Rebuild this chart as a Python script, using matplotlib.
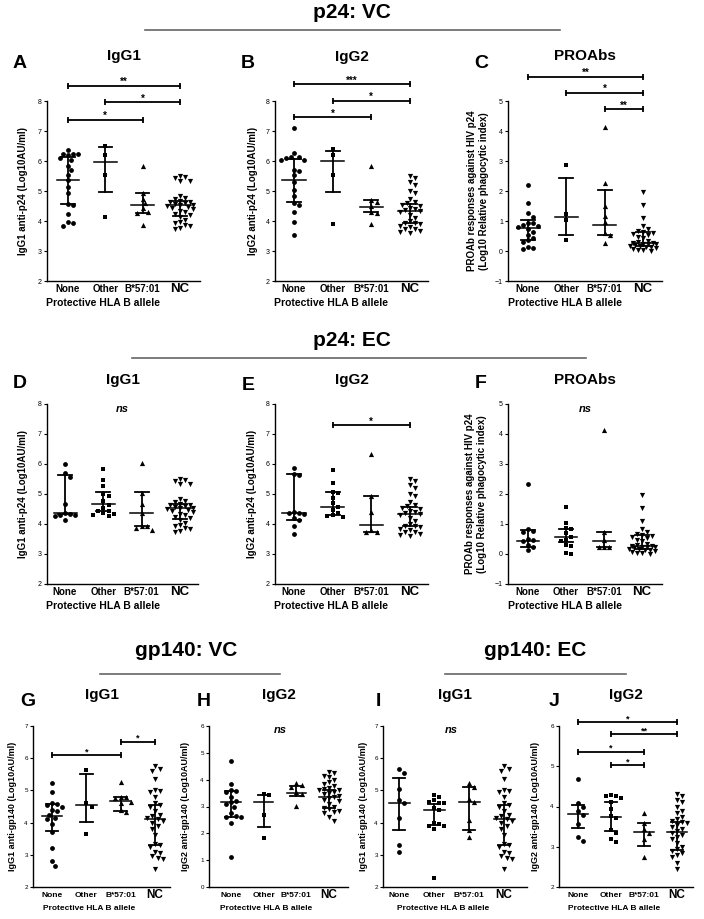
import matplotlib.pyplot as plt
from matplotlib.lines import Line2D
import numpy as np

plt.rcParams['font.family'] = ['Liberation Sans', 'DejaVu Sans']

groups = ['None', 'Other', 'B*57:01', 'NC']
markers = ['o', 's', '^', 'v']

# controls (NC) are shared by the VC and EC panels
nc_p24_igg1 = [5.5, 5.47, 5.42, 5.35, 5.33, 4.85, 4.78, 4.72, 4.68, 4.65, 4.62, 4.6, 4.58, 4.55, 4.52,
               4.5, 4.48, 4.45, 4.4, 4.35, 4.3, 4.25, 4.2, 4.15, 4.05, 3.98, 3.92, 3.88, 3.82, 3.78, 3.75]
nc_p24_igg2 = [5.5, 5.42, 5.3, 5.2, 5.0, 4.95, 4.75, 4.62, 4.6, 4.55, 4.5, 4.45, 4.4, 4.36, 4.33,
               4.3, 4.2, 4.1, 4.0, 3.95, 3.92, 3.9, 3.85, 3.8, 3.75, 3.72, 3.68, 3.65, 3.6]
nc_p24_proab = [1.97, 1.55, 1.1, 0.82, 0.72, 0.68, 0.62, 0.6, 0.58, 0.52, 0.48, 0.42, 0.35, 0.3, 0.28,
                0.27, 0.25, 0.24, 0.22, 0.2, 0.18, 0.17, 0.15, 0.12, 0.1, 0.08, 0.05, 0.02, 0.0]
nc_gp140_igg1 = [5.75, 5.65, 5.6, 5.35, 5.0, 4.98, 4.95, 4.8, 4.6, 4.55, 4.5, 4.35, 4.25, 4.2, 4.15,
                 4.1, 4.05, 4.0, 3.9, 3.8, 3.6, 3.35, 3.3, 3.25, 3.1, 3.05, 2.95, 2.9, 2.88, 2.55]
nc_gp140_igg2 = [4.3, 4.25, 4.15, 4.1, 4.0, 3.9, 3.85, 3.75, 3.7, 3.65, 3.62, 3.6, 3.55, 3.5, 3.45,
                 3.4, 3.35, 3.3, 3.25, 3.2, 3.1, 3.0, 2.95, 2.9, 2.85, 2.8, 2.75, 2.6, 2.45]

# p24: VC
a_none = [6.38, 6.25, 6.25, 6.22, 6.2, 6.1, 6.05, 5.85, 5.7, 5.55, 5.38, 5.15, 4.95, 4.58, 4.55, 4.25, 3.97, 3.92, 3.85]
a_other = [6.5, 6.2, 5.53, 4.12]
a_b57 = [5.85, 4.95, 4.75, 4.6, 4.42, 4.3, 4.28, 3.87]
a_med, a_q1, a_q3 = [5.38, 5.96, 4.52, 4.52], [4.57, 4.98, 4.28, 4.18], [6.15, 6.48, 4.94, 4.67]
a_sig = [(0, 3, 8.5, '**'), (1, 3, 7.96, '*'), (0, 2, 7.37, '*')]

b_none = [7.1, 6.28, 6.15, 6.12, 6.1, 6.05, 6.02, 5.7, 5.68, 5.52, 5.3, 5.05, 4.82, 4.6, 4.55, 4.3, 3.98, 3.52]
b_other = [6.4, 6.2, 5.53, 3.9]
b_b57 = [5.85, 4.7, 4.65, 4.5, 4.3, 4.28, 3.9]
b_med, b_q1, b_q3 = [5.37, 5.99, 4.46, 4.33], [4.62, 4.97, 4.3, 3.92], [6.08, 6.35, 4.7, 4.57]
b_sig = [(0, 3, 8.56, '***'), (1, 3, 8.0, '*'), (0, 2, 7.46, '*')]

c_none = [2.2, 1.6, 1.28, 1.15, 0.95, 0.92, 0.88, 0.85, 0.8, 0.75, 0.65, 0.55, 0.45, 0.38, 0.3, 0.15, 0.1, 0.08]
c_other = [2.86, 1.24, 1.02, 0.36]
c_b57 = [4.12, 2.28, 1.5, 1.18, 0.98, 0.6, 0.55, 0.27]
c_med, c_q1, c_q3 = [0.77, 1.13, 0.86, 0.27], [0.36, 0.52, 0.52, 0.18], [1.04, 2.44, 2.03, 0.62]
c_sig = [(0, 3, 5.81, '**'), (1, 3, 5.28, '*'), (2, 3, 4.72, '**')]

# p24: EC
d_none = [6.0, 5.7, 5.58, 4.68, 4.36, 4.33, 4.3, 4.3, 4.28, 4.12]
d_other = [5.83, 5.48, 5.26, 5.01, 4.95, 4.76, 4.64, 4.53, 4.44, 4.42, 4.36, 4.33, 4.3, 4.28]
d_b57 = [6.03, 5.05, 4.66, 4.36, 3.95, 3.93, 3.88, 3.8]
d_med, d_q1, d_q3 = [4.36, 4.66, 4.38, 4.52], [4.32, 4.42, 3.92, 4.18], [5.63, 5.06, 5.07, 4.67]

e_none = [5.88, 5.68, 5.62, 4.4, 4.38, 4.36, 4.33, 4.2, 4.15, 3.92, 3.68]
e_other = [5.8, 5.38, 5.08, 5.05, 4.86, 4.69, 4.58, 4.47, 4.36, 4.3, 4.27, 4.25]
e_b57 = [6.33, 4.94, 4.4, 3.8, 3.75, 3.73]
e_med, e_q1, e_q3 = [4.36, 4.56, 3.97, 4.33], [4.14, 4.3, 3.75, 3.92], [5.66, 5.08, 4.94, 4.57]
e_sig = [(1, 3, 7.29, '*')]

f_none = [2.32, 0.82, 0.78, 0.75, 0.5, 0.47, 0.42, 0.3, 0.25, 0.12]
f_other = [1.58, 1.05, 0.88, 0.82, 0.7, 0.58, 0.47, 0.42, 0.3, 0.28, 0.02, 0.0]
f_b57 = [4.15, 0.75, 0.47, 0.25, 0.23, 0.22]
f_med, f_q1, f_q3 = [0.45, 0.58, 0.44, 0.27], [0.22, 0.39, 0.23, 0.18], [0.8, 0.82, 0.75, 0.62]

# gp140: VC
g_none = [5.22, 4.95, 4.62, 4.58, 4.55, 4.5, 4.4, 4.35, 4.25, 4.15, 4.1, 3.95, 3.72, 3.2, 2.8, 2.65]
g_other = [5.63, 4.6, 4.5, 3.64]
g_b57 = [5.27, 4.8, 4.78, 4.75, 4.65, 4.6, 4.39, 4.34]
g_med, g_q1, g_q3 = [4.19, 4.55, 4.68, 4.1], [3.75, 4.03, 4.37, 3.31], [4.57, 5.51, 4.8, 4.55]
g_sig = [(0, 2, 6.09, '*'), (2, 3, 6.51, '*')]

h_none = [4.68, 3.82, 3.62, 3.58, 3.55, 3.35, 3.2, 3.15, 3.1, 2.98, 2.75, 2.65, 2.62, 2.6, 2.4, 1.13]
h_other = [3.46, 3.43, 2.67, 1.84]
h_b57 = [3.87, 3.8, 3.72, 3.55, 3.45, 3.02]
h_med, h_q1, h_q3 = [3.16, 3.17, 3.5, 3.36], [2.6, 2.22, 3.4, 2.93], [3.57, 3.43, 3.77, 3.61]

# gp140: EC
i_none = [5.68, 5.55, 5.03, 4.7, 4.62, 4.13, 3.31, 3.1]
i_other = [4.86, 4.78, 4.7, 4.65, 4.62, 4.6, 4.45, 4.4, 4.0, 3.95, 3.9, 3.88, 3.8, 2.27]
i_b57 = [5.24, 5.11, 4.72, 4.64, 4.08, 3.77, 3.55]
i_med, i_q1, i_q3 = [4.62, 4.39, 4.64, 4.1], [3.77, 3.93, 3.77, 3.31], [5.37, 4.58, 5.11, 4.55]

j_none = [4.68, 4.08, 4.0, 3.88, 3.8, 3.57, 3.24, 3.15]
j_other = [4.29, 4.27, 4.25, 4.22, 4.1, 3.93, 3.77, 3.72, 3.42, 3.34, 3.19, 3.13]
j_b57 = [3.83, 3.6, 3.45, 3.35, 3.2, 2.75]
j_med, j_q1, j_q3 = [3.81, 3.75, 3.36, 3.36], [3.46, 3.4, 3.01, 2.93], [4.03, 4.12, 3.6, 3.61]
j_sig = [(0, 3, 6.09, '*'), (1, 3, 5.8, '**'), (0, 2, 5.36, '*'), (1, 2, 5.02, '*')]

lab_p24_1 = 'IgG1 anti-p24 (Log10AU/ml)'
lab_p24_2 = 'IgG2 anti-p24 (Log10AU/ml)'
lab_proab = 'PROAb responses against HIV p24\n(Log10 Relative phagocytic index)'
lab_gp_1 = 'IgG1 anti-gp140 (Log10AU/ml)'
lab_gp_2 = 'IgG2 anti-gp140 (Log10AU/ml)'

W, H = 704, 919
fig = plt.figure(figsize=(W / 100, H / 100), dpi=100)


def ftext(x, y, s, **kw):
    fig.text(x / W, 1 - y / H, s, ha='center', va='center', **kw)


def swarm(vals, ypx, xpx, d=5.2, maxw=13):
    # simple beeswarm: place points from top down, nudging sideways on overlap,
    # but never wider than maxw px (then take the least crowded slot)
    placed = []
    offs = np.zeros(len(vals))
    cands = [0.0] + [s * j * d * 0.5 for j in range(1, 30) for s in (1, -1)]
    cands = [c for c in cands if abs(c) <= maxw]
    for i in np.argsort(vals)[::-1]:
        yp = vals[i] * ypx
        best, best_gap = 0.0, -1
        for c in cands:
            gap = min([np.hypot(c - px, yp - py) for px, py in placed] or [99])
            if gap >= d * 0.95:
                best = c
                break
            if gap > best_gap:
                best, best_gap = c, gap
        placed.append((best, yp))
        offs[i] = best / xpx
    return offs


def panel(letter, title, data, med, q1, q3, sig, ylim, ylabel, box, heads, big=True, ns=False):
    left, none_x, nc_x, right, top, bottom, lab_x = box
    title_y, letter_y = heads
    ax = fig.add_axes([left / W, 1 - bottom / H, (right - left) / W, (bottom - top) / H])
    unit = (nc_x - none_x) / 3
    ax.set_xlim((left - none_x) / unit, (right - none_x) / unit)
    ax.set_ylim(ylim)
    ax.set_yticks(np.arange(ylim[0], ylim[1] + 1))
    ypx = (bottom - top) / (ylim[1] - ylim[0])
    for k, vals in enumerate(data):
        vals = np.asarray(vals, dtype=float)
        off = swarm(vals, ypx, unit)
        ax.scatter(k + off, vals, marker=markers[k], s=12 if k < 2 else 14, c='black',
                   linewidths=0, clip_on=False, zorder=3)
        ax.plot([k - 0.3, k + 0.3], [med[k]] * 2, color='black', lw=1.1, zorder=4)
        ax.plot([k, k], [q1[k], q3[k]], color='black', lw=1.3, zorder=4)
        for q in (q1[k], q3[k]):
            ax.plot([k - 0.18, k + 0.18], [q, q], color='black', lw=1.3, zorder=4)
    for x0, x1, y, stars in sig:
        ax.plot([x0, x1], [y, y], color='black', lw=1.3, marker='|', ms=5, mew=1.3,
                clip_on=False)
        ax.annotate(stars, ((x0 + x1) / 2, y), xytext=(0, 0.6), textcoords='offset points',
                    ha='center', va='baseline', fontsize=7 if big else 6.5, fontweight='bold',
                    annotation_clip=False)
    for s in ('top', 'right'):
        ax.spines[s].set_visible(False)
    for s in ('left', 'bottom'):
        ax.spines[s].set_linewidth(1.0)
    ax.set_xticks(range(4))
    ax.set_xticklabels(groups)
    ax.tick_params(axis='x', length=0, pad=5.8)
    ax.tick_params(axis='y', length=2.5, width=0.8, pad=1.2, labelsize=5 if big else 4.5)
    for k, lab in enumerate(ax.get_xticklabels()):
        lab.set_fontweight('bold')
        lab.set_va('center')
        lab.set_fontsize((9.5 if big else 8.5) if k == 3 else (7 if big else 6))
    ax.set_ylabel(ylabel, fontsize=7 if big else 6.5, fontweight='bold')
    ax.yaxis.set_label_coords((lab_x - left) / (right - left), 0.5)
    ax.yaxis.label.set_va('center')
    cx = (left + right) / 2
    ftext(cx - (20 if big else 12), bottom + 22, 'Protective HLA B allele',
          fontsize=7.5 if big else 6, fontweight='bold')
    ftext(cx, title_y, title, fontsize=11, fontweight='bold')
    ftext(left - (27 if big else 5), letter_y, letter, fontsize=14, fontweight='bold')
    if ns:
        ax.text(1.5, ylim[1] - 0.025 * (ylim[1] - ylim[0]), 'ns', ha='center', va='center',
                fontsize=8, style='italic', fontweight='bold')
    return ax


# row 1: p24 VC
panel('A', 'IgG1', [a_none, a_other, a_b57, nc_p24_igg1], a_med, a_q1, a_q3, a_sig, (2, 8),
      lab_p24_1, (47, 68, 180, 200, 101, 281, 23), (56, 63))
panel('B', 'IgG2', [b_none, b_other, b_b57, nc_p24_igg2], b_med, b_q1, b_q3, b_sig, (2, 8),
      lab_p24_2, (275, 294, 410, 428, 101, 281, 253), (57, 63))
panel('C', 'PROAbs', [c_none, c_other, c_b57, nc_p24_proab], c_med, c_q1, c_q3, c_sig, (-1, 5),
      lab_proab, (508, 528, 643, 662, 101, 281, 478), (56, 63))

# row 2: p24 EC
panel('D', 'IgG1', [d_none, d_other, d_b57, nc_p24_igg1], d_med, d_q1, d_q3, [], (2, 8),
      lab_p24_1, (47, 65, 180, 198, 404, 584, 23), (380, 384), ns=True)
panel('E', 'IgG2', [e_none, e_other, e_b57, nc_p24_igg2], e_med, e_q1, e_q3, e_sig, (2, 8),
      lab_p24_2, (275, 294, 410, 428, 404, 584, 252), (380, 385))
panel('F', 'PROAbs', [f_none, f_other, f_b57, nc_p24_proab], f_med, f_q1, f_q3, [], (-1, 5),
      lab_proab, (508, 528, 642, 662, 404, 584, 476), (380, 384), ns=True)

# row 3: gp140 VC and EC
panel('G', 'IgG1', [g_none, g_other, g_b57, nc_gp140_igg1], g_med, g_q1, g_q3, g_sig, (2, 7),
      lab_gp_1, (33, 52, 155, 170, 726, 887, 13), (695, 701), big=False)
panel('H', 'IgG2', [h_none, h_other, h_b57, nc_gp140_igg2], h_med, h_q1, h_q3, [], (0, 6),
      lab_gp_2, (209, 231, 329, 348, 726, 887, 186), (695, 701), big=False, ns=True)
panel('I', 'IgG1', [i_none, i_other, i_b57, nc_gp140_igg1], i_med, i_q1, i_q3, [], (2, 7),
      lab_gp_1, (383, 399, 504, 527, 726, 887, 363), (695, 701), big=False, ns=True)
panel('J', 'IgG2', [j_none, j_other, j_b57, nc_gp140_igg2], j_med, j_q1, j_q3, j_sig, (2, 6),
      lab_gp_2, (559, 578, 677, 693, 726, 887, 535), (695, 701), big=False)

# section headers with rules
for text, cx, cy, x0, x1, ly in [('p24: VC', 352, 13, 145, 560, 30),
                                 ('p24: EC', 352, 340, 132, 586, 358),
                                 ('gp140: VC', 186, 650, 100, 280, 674),
                                 ('gp140: EC', 535, 650, 445, 626, 674)]:
    ftext(cx, cy, text, fontsize=15, fontweight='bold')
    fig.add_artist(Line2D([x0 / W, x1 / W], [1 - ly / H] * 2, color='#666666', lw=1.2))

fig.savefig('out.png', dpi=100)
